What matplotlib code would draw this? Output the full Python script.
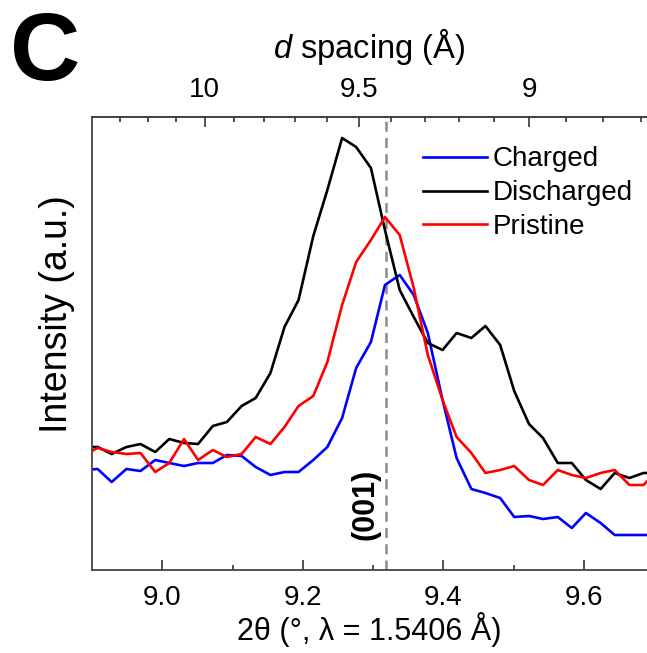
import matplotlib
matplotlib.use("Agg")
import matplotlib.pyplot as plt
from matplotlib.ticker import FixedLocator, FixedFormatter, NullFormatter

plt.rcParams['font.family'] = ['Liberation Sans', 'DejaVu Sans']
plt.rcParams['mathtext.fontset'] = 'custom'
plt.rcParams['mathtext.rm'] = 'Liberation Sans'
plt.rcParams['mathtext.it'] = 'Liberation Sans:italic'

# 2-theta scan positions (degrees)
two_theta = [8.888, 8.908, 8.928, 8.949, 8.969, 8.990, 9.010, 9.031, 9.051,
             9.072, 9.092, 9.113, 9.133, 9.154, 9.174, 9.194, 9.215, 9.235,
             9.256, 9.276, 9.297, 9.317, 9.338, 9.358, 9.378, 9.399, 9.419,
             9.440, 9.460, 9.481, 9.501, 9.522, 9.542, 9.563, 9.583, 9.603,
             9.624, 9.644, 9.665, 9.685, 9.706]

# Intensities (a.u.)
charged = [100, 101, 88, 101, 99, 110, 107, 104, 107, 107, 115, 114, 103,
           95, 98, 98, 110, 123, 152, 202, 228, 285, 295, 275, 237, 170,
           112, 81, 77, 72, 53, 54, 51, 53, 42, 57, 47, 35, 35, 35, 35]
discharged = [123, 123, 116, 123, 126, 118, 131, 127, 126, 144, 148, 164,
              172, 197, 243, 270, 334, 380, 432, 423, 402, 340, 280, 253,
              227, 220, 237, 232, 244, 225, 179, 146, 132, 107, 107, 90, 81,
              97, 92, 97, 97]
pristine = [115, 122, 118, 116, 117, 98, 107, 131, 110, 120, 113, 116, 133,
            126, 143, 164, 174, 208, 265, 308, 330, 353, 335, 282, 215, 170,
            133, 117, 97, 100, 104, 90, 85, 100, 95, 92, 97, 100, 85, 85, 100]

peak_001 = 9.319
d_major = [10, 9.5, 9]
d_minor = [10.3, 10.2, 10.1, 9.9, 9.8, 9.7, 9.6, 9.4, 9.3, 9.2, 9.1, 8.9, 8.8, 8.7]

# d-spacing scale of the top axis (linear in 1/d)
TT0, SLOPE = 9.0606, 41.59


def tt_to_d(tt):
    return 1.0 / (0.1 + (tt - TT0) / SLOPE)


def d_to_tt(d):
    return TT0 + SLOPE * (1.0 / d - 0.1)


fig = plt.figure(figsize=(6.47, 6.53), dpi=100)
ax = fig.add_axes([92 / 647, 83 / 653, 555 / 647, 453 / 653])

ax.plot(two_theta, charged, color='#0000ff', lw=1.9, label='Charged')
ax.plot(two_theta, discharged, color='#000000', lw=1.9, label='Discharged')
ax.plot(two_theta, pristine, color='#ff0000', lw=1.9, label='Pristine')
ax.axvline(peak_001, color='#8c8c8c', lw=1.8, ls=(0, (4, 2.5)), zorder=0)

ax.text(9.289, 66, '(001)', rotation=90, ha='center', va='center',
        fontsize=22, fontweight='bold')

ax.set_xlim(8.9, 9.69)
ax.set_ylim(0, 453)
ax.set_yticks([])
ax.set_xticks([9.0, 9.2, 9.4, 9.6])
ax.set_xticklabels(['9.0', '9.2', '9.4', '9.6'])
ax.xaxis.set_minor_locator(FixedLocator([9.1, 9.3, 9.5]))
ax.tick_params(axis='x', which='major', direction='in', length=7, width=1.2,
               labelsize=20, pad=10.5, color='#333333')
ax.tick_params(axis='x', which='minor', direction='in', length=3.5, width=1.2,
               color='#333333')
for side in ('left', 'bottom', 'top'):
    ax.spines[side].set_color('#444444')
    ax.spines[side].set_linewidth(1.3)
ax.spines['right'].set_visible(False)

ax.set_xlabel('2θ (°, λ = 1.5406 Å)', fontsize=22, labelpad=1)
ax.set_ylabel('Intensity (a.u.)', fontsize=27)
ax.yaxis.set_label_coords(-0.03, 0.565)

top = ax.secondary_xaxis('top', functions=(tt_to_d, d_to_tt))
top.xaxis.set_major_locator(FixedLocator(d_major))
top.xaxis.set_major_formatter(FixedFormatter(['10', '9.5', '9']))
top.xaxis.set_minor_locator(FixedLocator(d_minor))
top.xaxis.set_minor_formatter(NullFormatter())
top.tick_params(axis='x', which='major', direction='in', length=7, width=1.2,
                labelsize=20, pad=10, color='#333333')
top.tick_params(axis='x', which='minor', direction='in', length=3.5, width=1.2,
                color='#333333')
top.spines['top'].set_color('#444444')
top.spines['top'].set_linewidth(1.3)
top.set_xlabel('$d$ spacing (Å)', fontsize=23.5, labelpad=14)

ax.legend(loc='upper left', bbox_to_anchor=(0.596, 0.935), frameon=False,
          fontsize=20, handlelength=2.3, handletextpad=0.22, labelspacing=0.28,
          borderpad=0, borderaxespad=0)

fig.text(45 / 647, 1 - 80 / 653, 'C', fontsize=70, fontweight='bold',
         ha='center', va='baseline')

fig.savefig('out.png', dpi=100)
